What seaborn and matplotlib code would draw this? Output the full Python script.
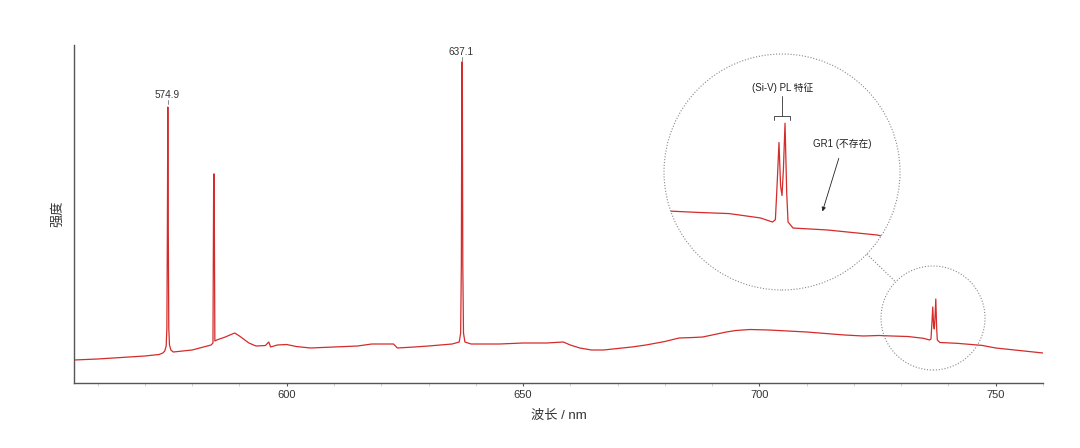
import numpy as np
import pandas as pd
import matplotlib
matplotlib.use("Agg")
import matplotlib.pyplot as plt
from matplotlib.patches import Circle
from matplotlib.lines import Line2D
import seaborn as sns

# ---- data ----
wavelength = [555.0, 560, 565, 570, 573, 573.8, 574.2, 574.5, 574.65, 574.75, 574.85, 574.95,
              575.05, 575.2, 575.5, 576,
              580, 584.0, 584.4, 584.55, 584.65, 584.8, 585.2, 587, 589, 590, 592, 593.5,
              595.5, 596.2, 596.6, 598, 600, 602, 605, 610, 615, 618, 622.6, 623.4, 627, 630,
              635, 636.5, 636.8, 636.95, 637.05, 637.15, 637.25, 637.4, 637.7, 639, 645, 650,
              655, 658.5, 660, 662, 664.5, 667, 670, 673, 676, 680, 683, 686, 688, 690, 693,
              695, 698, 702, 706, 710, 714, 718, 722, 725.3,
              728, 731.4, 734.7, 736.0, 736.3, 736.5, 736.68, 736.85, 737.0, 737.15, 737.32,
              737.5, 737.64, 738.17, 741.8, 747.1, 750, 755, 760]
intensity = [23, 24, 25.5, 27, 28.5, 30, 32, 37, 55, 150, 276, 150,
             55, 38, 33, 31,
             33, 38, 40, 209, 209, 42, 43, 46, 50, 47, 40, 37,
             37.5, 41, 36, 38, 38.5, 36.5, 35, 36, 37, 39, 39, 35, 36, 37,
             39, 41, 50, 120, 321, 321, 120, 50, 41, 39, 39, 40,
             40, 41, 38, 35, 33, 33, 34.5, 36, 38, 41.5, 45, 45.5, 46, 48, 51,
             52.5, 53.5, 53, 52, 51, 49.5, 48, 47, 47.5,
             47, 46.5, 44.7, 43, 44, 60, 76, 58, 54, 65, 84,
             55, 43, 40.5, 39.7, 37.6, 35, 32.5, 30]
peak_labels = ["574.9", "637.1"]
peak_pos = [574.85, 637.1]
peak_tops = [279, 322]
x_major = [600, 650, 700, 750]
x_minor = [560, 570, 580, 590, 610, 620, 630, 640, 660, 670, 680, 690, 710, 720, 730, 740, 760]
xlabel = "波长 / nm"
ylabel = "强度"
inset_label = "(Si-V) PL 特征"
gr1_label = "GR1 (不存在)"

RED = "#d42b2b"
GREY = "#555555"

sns.set_theme(style="white")
plt.rcParams['font.family'] = ['Liberation Sans', 'Noto Sans CJK SC', 'DejaVu Sans']

W, H = 1080, 448
fig = plt.figure(figsize=(W / 100, H / 100), dpi=100)
fig.patch.set_facecolor("white")

ax = fig.add_axes([74 / W, (H - 383) / H, 969 / W, 338 / H])
df = pd.DataFrame({"wl": wavelength, "I": intensity})
sns.lineplot(data=df, x="wl", y="I", ax=ax, color=RED, lw=0.9)
ax.set_xlim(555, 760)
ax.set_ylim(0, 338)
ax.set_yticks([])
ax.set_xticks(x_major)
ax.set_xticks(x_minor, minor=True)
ax.tick_params(axis="x", which="major", bottom=True, direction="out", length=2.5,
               width=0.8, color=GREY, labelsize=8, labelcolor="#333333", pad=2.5)
ax.tick_params(axis="x", which="minor", bottom=True, direction="out", length=2,
               width=0.6, color="#cccccc")
for s in ["top", "right"]:
    ax.spines[s].set_visible(False)
for s in ["left", "bottom"]:
    ax.spines[s].set_color(GREY)
    ax.spines[s].set_linewidth(1.0)
ax.set_xlabel(xlabel, fontsize=9.5, color="#333333", labelpad=7)
ax.set_ylabel(ylabel, fontsize=9.5, color="#333333", labelpad=7)

for lab, xp, top in zip(peak_labels, peak_pos, peak_tops):
    ax.plot([xp, xp], [top, top + 4], color="#777777", lw=0.6)
    ax.text(xp - 0.15, top + 9, lab, ha="center", va="center", fontsize=7.2, color="#333333")

# ---- inset (magnified) ----
cx, cy, r = 782, 172, 118
ax2 = fig.add_axes([(cx - r) / W, (H - cy - r) / H, 2 * r / W, 2 * r / H])
sns.lineplot(data=df, x="wl", y="I", ax=ax2, color=RED, lw=0.9)
ax2.set_xlim(724.5, 749.5)
ax2.set_ylim(14.8, 112.7)
ax2.axis("off")
ax2.patch.set_alpha(0)
clip = Circle((cx / 100, (H - cy) / 100), r / 100, transform=fig.dpi_scale_trans)
for ln in ax2.lines:
    ln.set_clip_path(clip)

# bracket + labels in inset
ax2.plot([736.15, 736.15, 737.85, 737.85], [85.3, 87, 87, 85.3], color="#333333", lw=0.6)
ax2.plot([737.0, 737.0], [87, 95.3], color="#333333", lw=0.6)
ax2.text(737.1, 98.6, inset_label, ha="center", va="center", fontsize=7, color="#222222")
ax2.text(743.4, 75.5, gr1_label, ha="center", va="center", fontsize=7, color="#222222")
ax2.annotate("", xy=(741.2, 46.3), xytext=(743.1, 70.5),
             arrowprops=dict(arrowstyle="-|>", color="#222222", lw=0.6, mutation_scale=6))

# circles and connector
scx, scy, sr = 933, 318, 52
dot = (0, (1, 1.6))
big = Circle((cx / 100, (H - cy) / 100), r / 100, transform=fig.dpi_scale_trans,
             fill=False, ec="#888888", lw=0.8, ls=dot, zorder=5)
small = Circle((scx / 100, (H - scy) / 100), sr / 100, transform=fig.dpi_scale_trans,
               fill=False, ec="#888888", lw=0.8, ls=dot, zorder=5)
fig.add_artist(big)
fig.add_artist(small)
d = np.hypot(scx - cx, scy - cy)
ux, uy = (scx - cx) / d, (scy - cy) / d
p1 = (cx + r * ux, cy + r * uy)
p2 = (scx - sr * ux, scy - sr * uy)
fig.add_artist(Line2D([p1[0] / 100, p2[0] / 100], [(H - p1[1]) / 100, (H - p2[1]) / 100],
                      transform=fig.dpi_scale_trans, color="#888888", lw=0.8, ls=dot))

fig.savefig("out.png", dpi=100, facecolor="white")
